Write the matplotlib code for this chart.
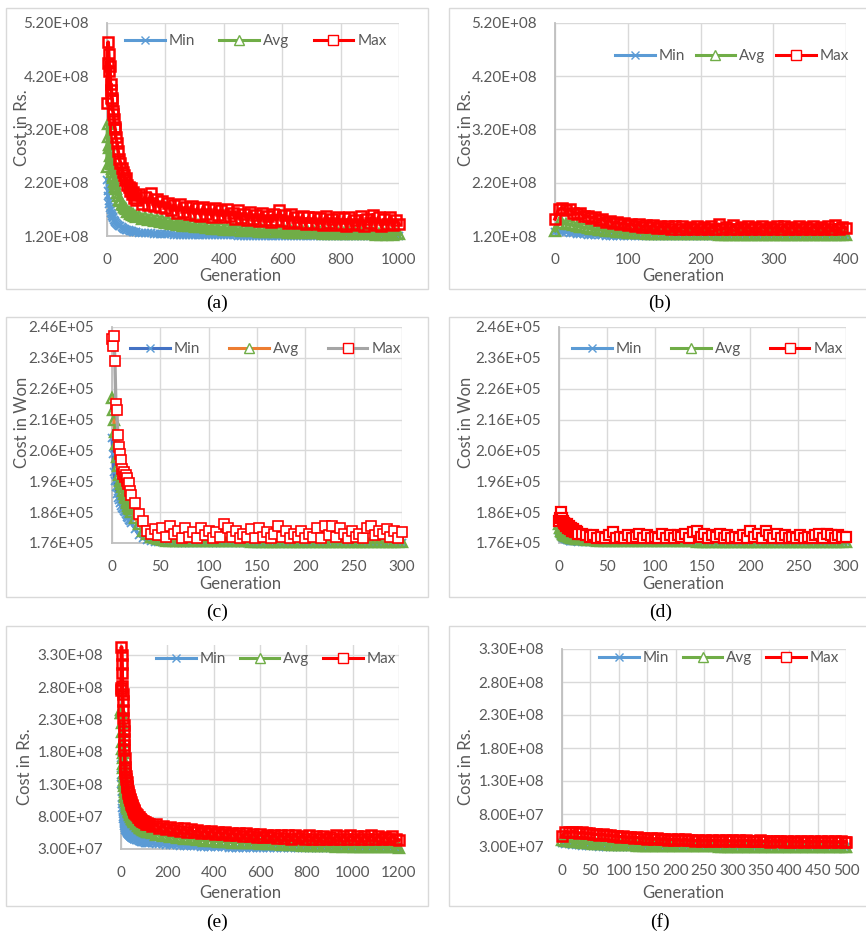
import matplotlib
matplotlib.use("Agg")
import matplotlib.pyplot as plt
from matplotlib.patches import Rectangle
from matplotlib.lines import Line2D
from matplotlib.ticker import FuncFormatter

plt.rcParams['font.family'] = ['Lato', 'DejaVu Sans']

W, H = 866, 934
TXT = '#595959'

# ---------------- data ----------------
# (a) cost in Rs. (values x 1e8)
gen_a = list(range(0, 31, 2)) + list(range(34, 99, 4)) + list(range(100, 1001, 10))
max_a = [3.70, 4.45, 4.84, 4.62, 4.30, 4.40, 3.95, 4.05, 3.80, 3.75, 3.55, 3.50, 3.40, 3.25, 3.20, 3.05,
         2.95, 2.80, 2.65, 2.58, 2.48, 2.40, 2.35, 2.25, 2.28, 2.15, 2.12, 2.05, 2.10, 1.98, 2.02, 1.92, 1.97,
         1.88, 1.98, 1.80, 1.93, 1.78, 2.00, 1.76, 1.90, 1.74, 1.86,
         1.72, 1.82, 1.68, 1.78, 1.64, 1.80, 1.66, 1.74, 1.62, 1.76,
         1.60, 1.72, 1.58, 1.75, 1.62, 1.70, 1.56, 1.72, 1.60, 1.68,
         1.55, 1.70, 1.58, 1.64, 1.52, 1.68, 1.54, 1.62, 1.50, 1.66,
         1.52, 1.60, 1.48, 1.64, 1.50, 1.58, 1.46, 1.62, 1.50, 1.68,
         1.48, 1.60, 1.45, 1.62, 1.47, 1.56, 1.44, 1.58, 1.42, 1.55,
         1.45, 1.56, 1.42, 1.54, 1.40, 1.58, 1.44, 1.52, 1.40, 1.56,
         1.42, 1.54, 1.38, 1.56, 1.43, 1.50, 1.40, 1.58, 1.38, 1.52,
         1.44, 1.60, 1.40, 1.55, 1.38, 1.52, 1.42, 1.56, 1.40, 1.50,
         1.42]
avg_a = [2.50, 3.30, 3.05, 2.85, 2.90, 2.70, 2.55, 2.60, 2.45, 2.40, 2.32, 2.28, 2.22, 2.18, 2.12, 2.08,
         2.00, 1.95, 1.88, 1.85, 1.80, 1.78, 1.74, 1.72, 1.70, 1.66, 1.66, 1.62, 1.63, 1.59, 1.61, 1.57, 1.58,
         1.55, 1.58, 1.52, 1.56, 1.50, 1.54, 1.48, 1.52, 1.46, 1.50,
         1.44, 1.48, 1.42, 1.46, 1.41, 1.45, 1.39, 1.43, 1.38, 1.42,
         1.37, 1.40, 1.36, 1.39, 1.35, 1.38, 1.34, 1.37, 1.33, 1.36,
         1.32, 1.35, 1.31, 1.34, 1.31, 1.33, 1.30, 1.33, 1.29, 1.32,
         1.29, 1.31, 1.28, 1.31, 1.28, 1.30, 1.27, 1.30, 1.27, 1.29,
         1.27, 1.29, 1.26, 1.29, 1.26, 1.28, 1.26, 1.28, 1.25, 1.27,
         1.25, 1.27, 1.25, 1.27, 1.24, 1.26, 1.24, 1.26, 1.24, 1.26,
         1.24, 1.26, 1.23, 1.25, 1.23, 1.25, 1.23, 1.25, 1.23, 1.25,
         1.23, 1.25, 1.22, 1.24, 1.22, 1.24, 1.22, 1.24, 1.22, 1.24,
         1.23]
min_a = [2.25, 2.05, 1.95, 1.85, 1.80, 1.72, 1.68, 1.64, 1.62, 1.58, 1.56, 1.53, 1.50, 1.49, 1.47, 1.45,
         1.43, 1.41, 1.39, 1.38, 1.36, 1.35, 1.34, 1.33, 1.32, 1.31, 1.31, 1.30, 1.29, 1.29, 1.28, 1.28, 1.27,
         1.27, 1.26, 1.26, 1.25, 1.25, 1.25, 1.24, 1.24, 1.24, 1.23,
         1.23, 1.23, 1.23, 1.22, 1.22, 1.22, 1.22, 1.22, 1.21, 1.21,
         1.21, 1.21, 1.21, 1.21, 1.21, 1.21, 1.21, 1.21, 1.21, 1.21,
         1.21, 1.21, 1.21, 1.21, 1.21, 1.205, 1.205, 1.205, 1.205, 1.205,
         1.20, 1.20, 1.20, 1.20, 1.20, 1.20, 1.20, 1.20, 1.20, 1.20,
         1.20, 1.20, 1.20, 1.20, 1.20, 1.20, 1.20, 1.20, 1.20, 1.20,
         1.20, 1.20, 1.20, 1.20, 1.20, 1.20, 1.20, 1.20, 1.20, 1.20,
         1.20, 1.20, 1.20, 1.20, 1.20, 1.20, 1.20, 1.20, 1.20, 1.20,
         1.20, 1.20, 1.20, 1.20, 1.20, 1.20, 1.20, 1.20, 1.20, 1.20,
         1.20]

# (b) cost in Rs. (values x 1e8)
gen_b = list(range(0, 401, 5))
max_b = [1.52, 1.70, 1.72, 1.68, 1.70, 1.64, 1.62, 1.63, 1.58, 1.57,
         1.54, 1.55, 1.50, 1.52, 1.47, 1.49, 1.44, 1.46, 1.42, 1.45,
         1.40, 1.43, 1.38, 1.42, 1.37, 1.41, 1.36, 1.40, 1.35, 1.39,
         1.35, 1.39, 1.34, 1.38, 1.33, 1.38, 1.34, 1.37, 1.33, 1.38,
         1.34, 1.37, 1.33, 1.38, 1.34, 1.42, 1.33, 1.37, 1.34, 1.40,
         1.33, 1.37, 1.34, 1.38, 1.33, 1.36, 1.34, 1.38, 1.33, 1.37,
         1.34, 1.38, 1.33, 1.39, 1.34, 1.37, 1.33, 1.38, 1.34, 1.37,
         1.33, 1.38, 1.34, 1.37, 1.33, 1.38, 1.34, 1.41, 1.33, 1.37,
         1.35]
avg_b = [1.30, 1.44, 1.45, 1.43, 1.42, 1.40, 1.39, 1.37, 1.36, 1.35,
         1.34, 1.33, 1.32, 1.31, 1.30, 1.29, 1.29, 1.28, 1.27, 1.27,
         1.26, 1.26, 1.25, 1.25, 1.25, 1.24, 1.24, 1.24, 1.24, 1.23,
         1.23, 1.23, 1.23, 1.23, 1.23, 1.23, 1.23, 1.23, 1.23, 1.23,
         1.23, 1.23, 1.23, 1.23, 1.23, 1.225, 1.225, 1.225, 1.225, 1.225,
         1.225, 1.225, 1.225, 1.225, 1.225, 1.225, 1.225, 1.225, 1.225, 1.225,
         1.22, 1.22, 1.22, 1.22, 1.22, 1.22, 1.22, 1.22, 1.22, 1.22,
         1.22, 1.22, 1.22, 1.22, 1.22, 1.22, 1.22, 1.22, 1.22, 1.22,
         1.22]
min_b = [1.28, 1.29, 1.28, 1.27, 1.26, 1.25, 1.24, 1.235, 1.23, 1.225,
         1.22, 1.215, 1.21, 1.21, 1.205, 1.205, 1.205, 1.20, 1.20, 1.20,
         1.20, 1.20, 1.20, 1.20, 1.20, 1.20, 1.20, 1.20, 1.20, 1.20,
         1.20, 1.20, 1.20, 1.20, 1.20, 1.20, 1.20, 1.20, 1.20, 1.20,
         1.20, 1.20, 1.20, 1.20, 1.20, 1.20, 1.20, 1.20, 1.20, 1.20,
         1.20, 1.20, 1.20, 1.20, 1.20, 1.20, 1.20, 1.20, 1.20, 1.20,
         1.20, 1.20, 1.20, 1.20, 1.20, 1.20, 1.20, 1.20, 1.20, 1.20,
         1.20, 1.20, 1.20, 1.20, 1.20, 1.20, 1.20, 1.20, 1.20, 1.20,
         1.20]

# (c) cost in Won (values x 1e5)
gen_c = list(range(0, 21)) + list(range(24, 301, 4))
max_c = [2.42, 2.40, 2.43, 2.35, 2.21, 2.19, 2.11, 2.07, 2.05, 2.03, 2.00, 1.985, 1.99, 1.975, 1.98,
         1.96, 1.97, 1.95, 1.955, 1.93, 1.915,
         1.89, 1.855, 1.83, 1.80, 1.79, 1.805, 1.785, 1.81, 1.78, 1.815,
         1.79, 1.80, 1.775, 1.81, 1.78, 1.795, 1.775, 1.81, 1.785, 1.80,
         1.775, 1.795, 1.78, 1.82, 1.81, 1.78, 1.80, 1.775, 1.79, 1.78,
         1.805, 1.775, 1.81, 1.78, 1.795, 1.775, 1.79, 1.815, 1.78, 1.80,
         1.775, 1.79, 1.78, 1.80, 1.775, 1.79, 1.78, 1.81, 1.775, 1.815,
         1.785, 1.815, 1.78, 1.81, 1.79, 1.775, 1.80, 1.78, 1.79, 1.775,
         1.81, 1.815, 1.785, 1.80, 1.79, 1.805, 1.78, 1.80, 1.775, 1.795]
avg_c = [2.23, 2.19, 2.16, 2.12, 2.08, 2.04, 2.01, 1.98, 1.96, 1.95, 1.94, 1.93, 1.92, 1.91, 1.905,
         1.895, 1.89, 1.88, 1.875, 1.87, 1.86,
         1.84, 1.82, 1.80, 1.79, 1.78, 1.775, 1.772, 1.77, 1.768, 1.767,
         1.766, 1.766, 1.765, 1.765, 1.765, 1.765, 1.765, 1.765, 1.765, 1.765,
         1.765, 1.765, 1.765, 1.765, 1.765, 1.765, 1.765, 1.765, 1.765, 1.765,
         1.764, 1.764, 1.764, 1.764, 1.764, 1.764, 1.764, 1.764, 1.764, 1.764,
         1.764, 1.764, 1.764, 1.764, 1.764, 1.764, 1.764, 1.764, 1.764, 1.764,
         1.763, 1.763, 1.763, 1.763, 1.763, 1.763, 1.763, 1.763, 1.763, 1.763,
         1.763, 1.763, 1.763, 1.763, 1.763, 1.763, 1.763, 1.763, 1.763, 1.763]
min_c = [2.10, 2.05, 1.99, 1.96, 1.94, 1.92, 1.905, 1.90, 1.89, 1.88, 1.875, 1.87, 1.865, 1.86, 1.855,
         1.85, 1.845, 1.84, 1.835, 1.83, 1.825,
         1.805, 1.785, 1.775, 1.77, 1.766, 1.764, 1.763, 1.762, 1.762, 1.762,
         1.761, 1.761, 1.761, 1.761, 1.761, 1.761, 1.761, 1.761, 1.761, 1.761,
         1.761, 1.761, 1.761, 1.761, 1.761, 1.761, 1.761, 1.761, 1.761, 1.761,
         1.761, 1.761, 1.761, 1.761, 1.761, 1.761, 1.761, 1.761, 1.761, 1.761,
         1.761, 1.761, 1.761, 1.761, 1.761, 1.761, 1.761, 1.761, 1.761, 1.761,
         1.761, 1.761, 1.761, 1.761, 1.761, 1.761, 1.761, 1.761, 1.761, 1.761,
         1.761, 1.761, 1.761, 1.761, 1.761, 1.761, 1.761, 1.761, 1.761, 1.761]

# (d) cost in Won (values x 1e5)
gen_d = list(range(0, 21)) + list(range(24, 301, 4))
max_d = [1.83, 1.84, 1.86, 1.84, 1.83, 1.825, 1.82, 1.815, 1.82, 1.81, 1.815, 1.81, 1.805, 1.81, 1.80,
         1.805, 1.80, 1.795, 1.80, 1.795, 1.79,
         1.79, 1.785, 1.78, 1.785, 1.775, 1.78, 1.775, 1.785, 1.795, 1.775,
         1.78, 1.775, 1.785, 1.775, 1.78, 1.79, 1.775, 1.785, 1.775, 1.78,
         1.775, 1.79, 1.775, 1.785, 1.775, 1.785, 1.78, 1.79, 1.775, 1.795,
         1.80, 1.78, 1.79, 1.775, 1.785, 1.78, 1.79, 1.775, 1.785, 1.775,
         1.78, 1.775, 1.785, 1.775, 1.80, 1.78, 1.79, 1.775, 1.80, 1.785,
         1.775, 1.79, 1.775, 1.785, 1.775, 1.78, 1.775, 1.785, 1.775, 1.78,
         1.775, 1.785, 1.79, 1.775, 1.79, 1.785, 1.775, 1.785, 1.78, 1.78]
avg_d = [1.82, 1.81, 1.80, 1.795, 1.79, 1.787, 1.785, 1.784, 1.783, 1.782, 1.78, 1.779, 1.778, 1.777,
         1.777, 1.776, 1.775, 1.775, 1.774, 1.774, 1.773,
         1.772, 1.771, 1.770, 1.769, 1.768, 1.768, 1.767, 1.767, 1.766, 1.766,
         1.765, 1.765, 1.765, 1.765, 1.765, 1.765, 1.765, 1.765, 1.765, 1.765,
         1.765, 1.765, 1.765, 1.765, 1.765, 1.765, 1.765, 1.765, 1.765, 1.765,
         1.764, 1.764, 1.764, 1.764, 1.764, 1.764, 1.764, 1.764, 1.764, 1.764,
         1.764, 1.764, 1.764, 1.764, 1.764, 1.764, 1.764, 1.764, 1.764, 1.764,
         1.764, 1.764, 1.764, 1.764, 1.764, 1.764, 1.764, 1.764, 1.764, 1.764,
         1.764, 1.764, 1.764, 1.764, 1.764, 1.764, 1.764, 1.764, 1.764, 1.764]
min_d = [1.80, 1.79, 1.785, 1.78, 1.777, 1.775, 1.773, 1.772, 1.771, 1.770, 1.769, 1.768, 1.768, 1.767,
         1.767, 1.766, 1.766, 1.765, 1.765, 1.765, 1.764,
         1.764, 1.763, 1.763, 1.763, 1.762, 1.762, 1.762, 1.762, 1.762, 1.762,
         1.762, 1.762, 1.762, 1.762, 1.762, 1.762, 1.762, 1.762, 1.762, 1.762,
         1.762, 1.762, 1.762, 1.762, 1.762, 1.762, 1.762, 1.762, 1.762, 1.762,
         1.762, 1.762, 1.762, 1.762, 1.762, 1.762, 1.762, 1.762, 1.762, 1.762,
         1.762, 1.762, 1.762, 1.762, 1.762, 1.762, 1.762, 1.762, 1.762, 1.762,
         1.762, 1.762, 1.762, 1.762, 1.762, 1.762, 1.762, 1.762, 1.762, 1.762,
         1.762, 1.762, 1.762, 1.762, 1.762, 1.762, 1.762, 1.762, 1.762, 1.762]

# (e) cost in Rs. (values x 1e8)
gen_e = list(range(0, 21)) + list(range(22, 61, 2)) + list(range(64, 121, 4)) + list(range(135, 1201, 15))
max_e = [2.75, 2.78, 3.42, 3.30, 3.15, 3.02, 2.82, 2.70, 2.59, 2.45, 2.33, 2.22, 2.12, 2.00, 1.91,
         1.83, 1.70, 1.57, 1.52, 1.48, 1.42,
         1.38, 1.33, 1.28, 1.25, 1.20, 1.17, 1.14, 1.10, 1.07, 1.05,
         1.02, 1.00, 0.98, 0.96, 0.94, 0.92, 0.90, 0.89, 0.87, 0.86,
         0.84, 0.82, 0.80, 0.79, 0.77, 0.76, 0.75, 0.73, 0.74, 0.71, 0.72, 0.69, 0.70, 0.68, 0.69,
         0.66, 0.68, 0.63, 0.66, 0.61, 0.64, 0.60, 0.63, 0.58, 0.62,
         0.57, 0.61, 0.56, 0.59, 0.55, 0.58, 0.54, 0.58, 0.53, 0.57,
         0.53, 0.56, 0.52, 0.55, 0.51, 0.55, 0.50, 0.54, 0.50, 0.53,
         0.49, 0.53, 0.48, 0.52, 0.48, 0.51, 0.47, 0.52, 0.47, 0.51,
         0.46, 0.52, 0.47, 0.50, 0.46, 0.51, 0.46, 0.50, 0.45, 0.50,
         0.46, 0.49, 0.45, 0.51, 0.46, 0.50, 0.45, 0.51, 0.46, 0.50,
         0.45, 0.50, 0.46, 0.51, 0.45, 0.50, 0.46, 0.49, 0.45, 0.50,
         0.46, 0.44]
avg_e = [2.40, 2.45, 2.40, 2.25, 2.10, 1.95, 1.85, 1.78, 1.70, 1.62, 1.55, 1.48, 1.42, 1.37, 1.32,
         1.27, 1.22, 1.18, 1.14, 1.10, 1.07,
         1.04, 1.01, 0.98, 0.95, 0.93, 0.91, 0.89, 0.87, 0.85, 0.83,
         0.82, 0.80, 0.79, 0.77, 0.76, 0.75, 0.74, 0.73, 0.72, 0.71,
         0.69, 0.68, 0.66, 0.65, 0.64, 0.63, 0.62, 0.61, 0.60, 0.59, 0.585, 0.575, 0.57, 0.56, 0.555,
         0.55, 0.52, 0.53, 0.50, 0.51, 0.48, 0.50, 0.47, 0.48, 0.46,
         0.47, 0.45, 0.46, 0.44, 0.45, 0.43, 0.44, 0.42, 0.43, 0.415,
         0.42, 0.41, 0.415, 0.40, 0.41, 0.395, 0.40, 0.39, 0.395, 0.385,
         0.39, 0.38, 0.385, 0.375, 0.38, 0.37, 0.375, 0.365, 0.37, 0.36,
         0.365, 0.355, 0.36, 0.35, 0.355, 0.345, 0.35, 0.345, 0.35, 0.34,
         0.345, 0.34, 0.345, 0.335, 0.34, 0.335, 0.34, 0.33, 0.335, 0.33,
         0.335, 0.33, 0.335, 0.325, 0.33, 0.325, 0.33, 0.325, 0.33, 0.325,
         0.325, 0.32]
min_e = [1.70, 1.45, 1.30, 1.18, 1.08, 1.00, 0.93, 0.88, 0.84, 0.80, 0.77, 0.74, 0.72, 0.70, 0.68,
         0.66, 0.65, 0.63, 0.62, 0.60, 0.59,
         0.58, 0.565, 0.555, 0.545, 0.535, 0.525, 0.515, 0.51, 0.50, 0.495,
         0.49, 0.485, 0.48, 0.475, 0.47, 0.465, 0.46, 0.455, 0.455, 0.45,
         0.445, 0.44, 0.435, 0.43, 0.425, 0.42, 0.415, 0.41, 0.41, 0.405, 0.40, 0.40, 0.395, 0.39, 0.39,
         0.385, 0.38, 0.375, 0.37, 0.365, 0.36, 0.36, 0.355, 0.35, 0.35,
         0.345, 0.345, 0.34, 0.34, 0.335, 0.335, 0.33, 0.33, 0.33, 0.325,
         0.325, 0.325, 0.32, 0.32, 0.32, 0.32, 0.315, 0.315, 0.315, 0.315,
         0.315, 0.315, 0.31, 0.31, 0.31, 0.31, 0.31, 0.31, 0.31, 0.31,
         0.31, 0.31, 0.31, 0.31, 0.31, 0.31, 0.31, 0.31, 0.31, 0.31,
         0.31, 0.31, 0.31, 0.31, 0.31, 0.31, 0.31, 0.31, 0.31, 0.31,
         0.31, 0.31, 0.31, 0.31, 0.31, 0.31, 0.31, 0.31, 0.31, 0.31,
         0.31, 0.31]

# (f) cost in Rs. (values x 1e7)
gen_f = list(range(0, 499, 6)) + [500]
max_f = [4.6, 5.3, 5.2, 5.3, 5.25, 5.1, 5.2, 5.05, 5.1, 4.95,
         4.95, 4.85, 4.9, 4.75, 4.8, 4.65, 4.7, 4.55, 4.6, 4.45,
         4.5, 4.4, 4.45, 4.3, 4.4, 4.25, 4.35, 4.2, 4.3, 4.15,
         4.25, 4.1, 4.2, 4.05, 4.15, 4.0, 4.15, 4.0, 4.1, 3.95,
         4.1, 3.95, 4.05, 3.9, 4.05, 3.9, 4.0, 3.9, 4.05, 3.9,
         4.0, 3.85, 4.0, 3.9, 4.05, 3.85, 3.95, 3.85, 4.0, 3.85,
         3.95, 3.8, 3.95, 3.85, 3.95, 3.8, 3.95, 3.8, 3.9, 3.8,
         3.95, 3.8, 3.9, 3.75, 3.9, 3.8, 3.9, 3.75, 3.9, 3.75,
         3.85, 3.75, 3.85, 3.75,
         3.8]
avg_f = [4.0, 3.92, 3.86, 3.8, 3.75, 3.7, 3.65, 3.6, 3.56, 3.52,
         3.48, 3.45, 3.42, 3.39, 3.36, 3.34, 3.32, 3.3, 3.28, 3.26,
         3.25, 3.23, 3.22, 3.2, 3.19, 3.18, 3.17, 3.16, 3.15, 3.14,
         3.14, 3.13, 3.12, 3.12, 3.11, 3.11, 3.1, 3.1, 3.1, 3.09,
         3.09, 3.09, 3.08, 3.08, 3.08, 3.08, 3.07, 3.07, 3.07, 3.07,
         3.07, 3.07, 3.06, 3.06, 3.06, 3.06, 3.06, 3.06, 3.06, 3.06,
         3.05, 3.05, 3.05, 3.05, 3.05, 3.05, 3.05, 3.05, 3.05, 3.05,
         3.05, 3.05, 3.05, 3.05, 3.05, 3.05, 3.05, 3.05, 3.05, 3.05,
         3.05, 3.05, 3.05, 3.05,
         3.05]
min_f = [3.6, 3.5, 3.42, 3.36, 3.3, 3.25, 3.2, 3.17, 3.14, 3.11,
         3.09, 3.07, 3.05, 3.04, 3.03, 3.02, 3.01, 3.0, 3.0, 2.99,
         2.99, 2.99, 2.99, 2.99, 2.99, 2.99, 2.99, 2.99, 2.99, 2.99,
         2.99, 2.99, 2.99, 2.99, 2.99, 2.99, 2.99, 2.99, 2.99, 2.99,
         2.98, 2.98, 2.98, 2.98, 2.98, 2.98, 2.98, 2.98, 2.98, 2.98,
         2.98, 2.98, 2.98, 2.98, 2.98, 2.98, 2.98, 2.98, 2.98, 2.98,
         2.98, 2.98, 2.98, 2.98, 2.98, 2.98, 2.98, 2.98, 2.98, 2.98,
         2.98, 2.98, 2.98, 2.98, 2.98, 2.98, 2.98, 2.98, 2.98, 2.98,
         2.98, 2.98, 2.98, 2.98,
         2.98]

series_labels = ['Min', 'Avg', 'Max']

# ---------------- drawing ----------------
fig = plt.figure(figsize=(W / 100, H / 100), dpi=100)


def fx(x):
    return x / W


def fy(y):
    return 1 - y / H


def box(l, t, r, b):
    fig.add_artist(Rectangle((fx(l), fy(b)), (r - l) / W, (b - t) / H, transform=fig.transFigure,
                             fill=False, ec='#D9D9D9', lw=1.0, zorder=0))


def ftext(x, y, s, **kw):
    fig.text(fx(x), fy(y), s, ha='center', va='center', **kw)


MK = [dict(marker='x', ms=6, mec='#5B9BD5'),
      dict(marker='^', ms=7, mec='#70AD47'),
      dict(marker='s', ms=7, mec='#FF0000')]


def panel(rect, gen, mins, avgs, maxs, scale, xlim, xticks, ylim, yticks, ylabel, leg_xy,
          colspace, line_cols, style, caption, cap_xy, ylab_xy, xlab_xy, boxr):
    faces, mews, lw = style
    l, t, r, b = rect
    box(*boxr)
    ax = fig.add_axes([fx(l), fy(b), (r - l) / W, (b - t) / H])
    ax.set_xlim(*xlim)
    ax.set_ylim(*ylim)
    ax.set_xticks(xticks)
    ax.set_yticks(yticks)
    ax.yaxis.set_major_formatter(FuncFormatter(lambda v, p: '%.2E' % v))
    ax.grid(True, color='#D9D9D9', lw=1.0)
    ax.set_axisbelow(True)
    for s in ['top', 'right']:
        ax.spines[s].set_visible(False)
    for s in ['left', 'bottom']:
        ax.spines[s].set_color('#BFBFBF')
        ax.spines[s].set_linewidth(1.3)
    ax.tick_params(length=0, labelsize=11, colors=TXT, pad=12)
    ax.tick_params(axis='y', pad=13)
    handles = []
    for k, vals in enumerate([mins, avgs, maxs]):
        ax.plot(gen, [v * scale for v in vals], color=line_cols[k], lw=lw, mfc=faces[k],
                mew=mews[k], clip_on=False, zorder=3, **MK[k])
        handles.append(Line2D([], [], color=line_cols[k], lw=2.2, mfc='white', mew=1.0, **MK[k]))
    ax.legend(handles, series_labels, loc='center left',
              bbox_to_anchor=(fx(leg_xy[0]), fy(leg_xy[1])), bbox_transform=fig.transFigure,
              ncol=3, frameon=False, borderpad=0, borderaxespad=0, handlelength=2.6,
              handletextpad=0.25, columnspacing=colspace, fontsize=11, labelcolor=TXT)
    ftext(ylab_xy[0], ylab_xy[1], ylabel, rotation=90, fontsize=12, color=TXT)
    ftext(xlab_xy[0], xlab_xy[1], 'Generation', fontsize=12, color=TXT)
    ftext(cap_xy[0], cap_xy[1], caption, fontsize=14, color='black', family='Liberation Serif')
    return ax


std_cols = ['#5B9BD5', '#70AD47', '#FF0000']
won_cols = ['#4472C4', '#ED7D31', '#A5A5A5']
dense = (['none', 'none', 'none'], [1.3, 1.7, 1.8], 2.6)
sparse = (['none', 'none', 'white'], [1.3, 1.7, 1.2], 2.4)
medium = (['none', 'none', 'white'], [1.3, 1.7, 1.6], 2.6)

yt_ab = [1.2e8, 2.2e8, 3.2e8, 4.2e8, 5.2e8]
yt_cd = [1.76e5, 1.86e5, 1.96e5, 2.06e5, 2.16e5, 2.26e5, 2.36e5, 2.46e5]
yt_ef = [3.0e7, 8.0e7, 1.3e8, 1.8e8, 2.3e8, 2.8e8, 3.3e8]

panel((107, 23, 399, 236), gen_a, min_a, avg_a, max_a, 1e8, (0, 1000), range(0, 1001, 200),
      (1.2e8, 5.2e8), yt_ab, 'Cost in Rs.', (125, 41), 1.6, std_cols, dense, '(a)', (217, 303),
      (22, 128), (240, 276), (6, 8, 428, 289))
panel((555, 23, 846, 236), gen_b, min_b, avg_b, max_b, 1e8, (0, 400), range(0, 401, 100),
      (1.2e8, 5.2e8), yt_ab, 'Cost in Rs.', (615, 56), 0.7, std_cols, dense, '(b)', (660, 303),
      (466, 128), (683, 276), (449, 8, 872, 289))
panel((112, 327, 402, 543), gen_c, min_c, avg_c, max_c, 1e5, (0, 300), range(0, 301, 50),
      (1.76e5, 2.46e5), yt_cd, 'Cost in Won', (130, 349), 1.9, won_cols, sparse, '(c)', (217, 612),
      (22, 422), (240, 584), (6, 317, 428, 597))
panel((559, 327, 846, 543), gen_d, min_d, avg_d, max_d, 1e5, (0, 300), range(0, 301, 50),
      (1.76e5, 2.46e5), yt_cd, 'Cost in Won', (572, 349), 1.9, std_cols, medium, '(d)', (661, 612),
      (466, 422), (683, 584), (449, 317, 872, 597))
panel((121, 645, 399, 849), gen_e, min_e, avg_e, max_e, 1e8, (0, 1200), range(0, 1201, 200),
      (3.0e7, 3.45e8), yt_ef, 'Cost in Rs.', (156, 659), 0.9, std_cols, dense, '(e)', (217, 922),
      (25, 767), (240, 893), (6, 626, 428, 906))
panel((562, 649, 846, 847), gen_f, min_f, avg_f, max_f, 1e7, (0, 500), range(0, 501, 50),
      (3.0e7, 3.3e8), yt_ef, 'Cost in Rs.', (599, 658), 0.9, std_cols, dense, '(f)', (660, 922),
      (466, 767), (683, 893), (449, 626, 872, 906))

fig.savefig('out.png', dpi=100)
